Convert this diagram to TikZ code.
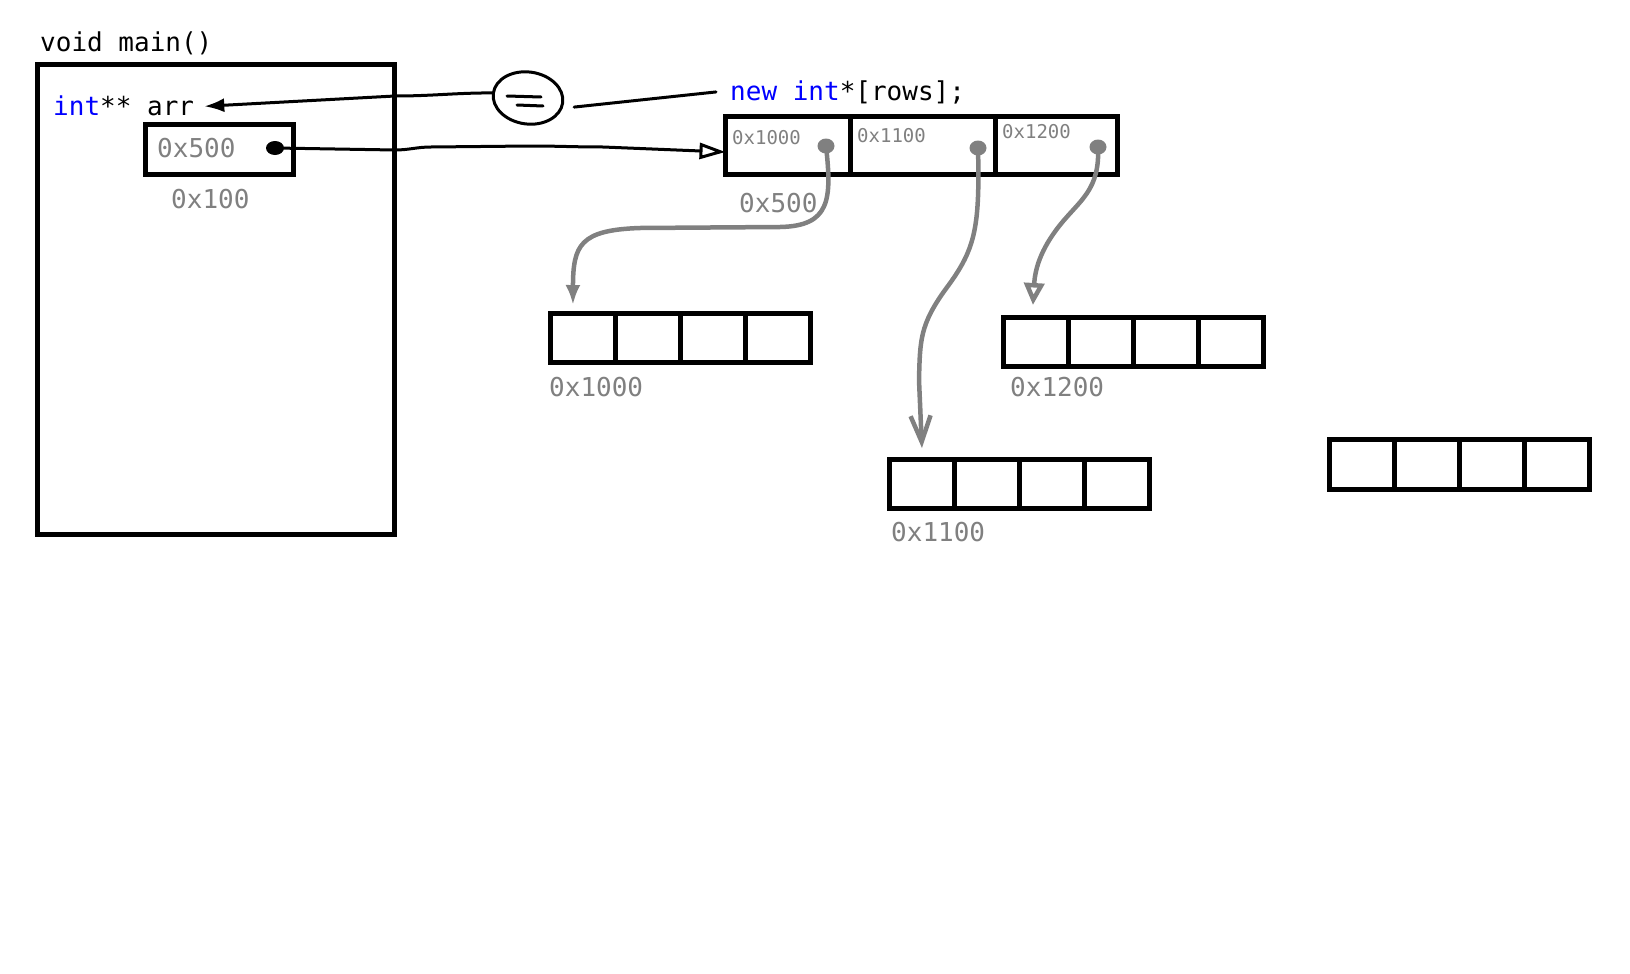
\documentclass[tikz,border=0pt]{standalone}
\usepackage{fontspec}
\setmonofont{DejaVu Sans Mono}
\usetikzlibrary{arrows.meta,calc,shapes.geometric}
\definecolor{kwblue}{RGB}{0,0,255}
\definecolor{addrgray}{RGB}{128,128,128}
\begin{document}
\begin{tikzpicture}[x=1pt,y=-1pt,
  code/.style={font=\ttfamily\fontsize{26}{30}\selectfont, anchor=base west, inner sep=0pt},
  addr/.style={code, text=addrgray},
  smalladdr/.style={font=\ttfamily\fontsize{19}{22}\selectfont, text=addrgray, anchor=base west, inner sep=0pt},
  box/.style={draw, line width=5pt, inner sep=0pt, outer sep=0pt, rectangle, anchor=north west},
  cell/.style={box, minimum width=64.9pt, minimum height=49pt},
  ink/.style={line width=3pt, line cap=round, line join=round},
  grayink/.style={draw=addrgray, line width=4.5pt, line cap=round, line join=round},
  blackdot/.style={fill, ellipse, inner sep=0pt, minimum width=18pt, minimum height=14pt},
  graydot/.style={fill=addrgray, ellipse, inner sep=0pt, minimum width=17pt, minimum height=15pt},
]
\useasboundingbox (0,0) rectangle (1630,974);

% stack frame of main()
\node[code] (fn) at (40,52) {void main()};
\node[box, minimum width=357pt, minimum height=469.5pt] (frame) at (37.5,65) {};
\node[code] (decl) at (53,115) {\textcolor{kwblue}{int}** arr};
\node[box, minimum width=148pt, minimum height=50pt] (slot) at (145.5,124.5) {};
\node[addr] (v500) at (157,157) {0x500};
\node[blackdot] (d500) at (275,148) {};
\node[addr] (a100) at (171,208) {0x100};

% heap array of row pointers
\node[code] (alloc) at (730,100) {\textcolor{kwblue}{new int}*[rows];};
\node[box, minimum width=124.5pt, minimum height=58pt] (p1) at (725.5,116.5) {};
\node[box, minimum width=145pt, minimum height=58pt] (p2) at (850,116.5) {};
\node[box, minimum width=122.5pt, minimum height=58pt] (p3) at (995,116.5) {};
\node[smalladdr] (t1) at (732,144) {0x1000};
\node[smalladdr] (t2) at (857,142) {0x1100};
\node[smalladdr] (t3) at (1002,138) {0x1200};
\node[graydot] (g1) at (826,146) {};
\node[graydot] (g2) at (978,148) {};
\node[graydot] (g3) at (1098,147) {};
\node[addr] (a500) at (739,212) {0x500};

% assignment mark
\node[draw, ellipse, line width=3pt, minimum width=70pt, minimum height=52pt, rotate=-8] (eq) at (528,98) {};
\draw[ink] ($(eq.center)+(-21,-2)$) -- ($(eq.center)+(13,-1)$);
\draw[ink] ($(eq.center)+(-11,7)$) -- ($(eq.center)+(15,8)$);

% rows
\foreach \i in {0,1,2,3} {
  \node[cell] (ra\i) at ({550.5+64.9*\i},313.5) {};
  \node[cell] (rb\i) at ({889.5+64.9*\i},459.5) {};
  \node[cell] (rc\i) at ({1003.5+64.9*\i},317.5) {};
  \node[cell, minimum width=65pt, minimum height=50pt] (rd\i) at ({1329.5+65*\i},439.5) {};
}
\node[addr] (la) at (549,396) {0x1000};
\node[addr] (lb) at (891,541) {0x1100};
\node[addr] (lc) at (1010,396) {0x1200};

% connectors
\draw[ink] ([xshift=-14pt]alloc.west) -- ($(eq.east)+(10,4)$);
\draw[ink, -{Latex[length=20pt,width=14pt]}] (eq.west) to[out=180,in=0] (395,96)
  -- ([xshift=10pt,yshift=-1pt]decl.east);
\draw[ink, -{Triangle[open,length=26pt,width=16pt]}] (d500.center) -- (395,150)
  to[out=0,in=180] (431,147) -- (530,146) to[out=0,in=180] (603,147)
  -- ([yshift=-6.5pt]p1.west);

\draw[grayink, -{Latex[length=20pt,width=15pt]}] (g1.center)
  .. controls (832,200) and (830,226) .. (780,227) -- (640,228)
  .. controls (580,230) and (573,245) .. ($(ra0.north)+(-10,-8.5)$);
\draw[grayink, -{Straight Barb[length=26pt,width=20pt]}] (g2.center)
  .. controls (980,230) and (975,250) .. (945,290)
  .. controls (920,325) and (920,340) .. (919,380) -- ($(rb0.north)+(0,-11.5)$);
\draw[grayink, -{Triangle[open,length=22pt,width=20pt]}] (g3.center)
  .. controls (1100,190) and (1080,200) .. (1060,225)
  .. controls (1040,250) and (1035,270) .. ($(rc0.north)+(-3,-12.5)$);
\end{tikzpicture}
\end{document}
